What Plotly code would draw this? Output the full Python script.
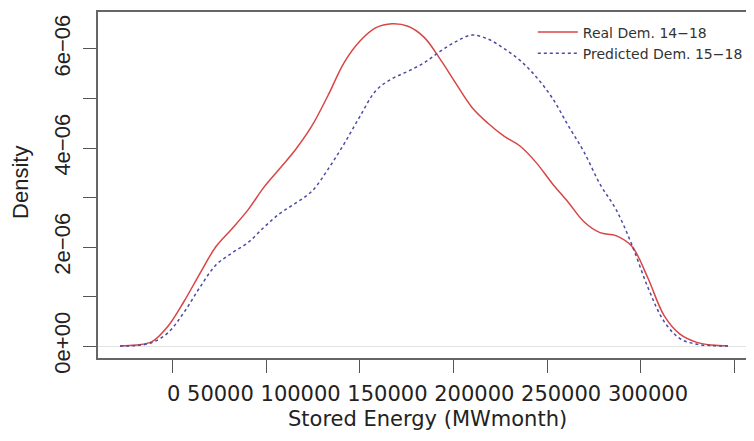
import plotly.graph_objects as go

energy = [-28340, -19790, -11230, -2670, 5880, 14440, 23000, 31550, 40110, 48660,
          57220, 65780, 74330, 82890, 91440, 100000, 108550, 117110, 125670, 134220,
          142780, 151340, 159890, 168450, 177000, 185560, 194120, 202670, 211230, 219780,
          228340, 236900, 245450, 254010, 262560, 271120, 279670, 288230, 296790]

# Real demand 14-18 (density, units of 1e-6)
real_density = [0.0, 0.02, 0.09, 0.40, 0.90, 1.47, 2.01, 2.37, 2.75, 3.21,
                3.59, 3.98, 4.45, 5.06, 5.72, 6.16, 6.43, 6.51, 6.46, 6.24,
                5.80, 5.30, 4.82, 4.50, 4.24, 4.04, 3.71, 3.29, 2.91, 2.51,
                2.29, 2.23, 2.01, 1.37, 0.62, 0.24, 0.08, 0.02, 0.0]

# Predicted demand 15-18 (density, units of 1e-6)
pred_density = [0.0, 0.01, 0.07, 0.27, 0.68, 1.19, 1.64, 1.88, 2.09, 2.40,
                2.68, 2.89, 3.13, 3.57, 4.08, 4.64, 5.16, 5.40, 5.55, 5.72,
                5.95, 6.15, 6.28, 6.20, 6.01, 5.77, 5.44, 5.02, 4.46, 3.92,
                3.27, 2.76, 2.04, 1.18, 0.50, 0.15, 0.04, 0.01, 0.0]

x_ticks = [0, 50000, 100000, 150000, 200000, 250000, 300000]
x_tick_labels = ["0", "50000", "100000", "150000", "200000", "250000", "300000"]
y_ticks = [0, 1e-6, 2e-6, 3e-6, 4e-6, 5e-6, 6e-6]
y_tick_labels = ["0e+00", "", "2e\u221206", "", "4e\u221206", "", "6e\u221206"]

fig = go.Figure()

fig.add_trace(go.Scatter(x=energy, y=[v * 1e-6 for v in real_density],
                         mode="lines", name="Real Dem. 14\u221218",
                         line=dict(color="#d94545", width=1.5, shape="spline", smoothing=1.0)))
fig.add_trace(go.Scatter(x=energy, y=[v * 1e-6 for v in pred_density],
                         mode="lines", name="Predicted Dem. 15\u221218",
                         line=dict(color="#4b4ba6", width=1.5, dash="dot", shape="spline", smoothing=1.0)))

# x tick labels are packed together in the original, so they sit in one line of text
fig.add_annotation(text=" ".join(x_tick_labels), xref="paper", yref="paper",
                   x=0.5077, y=-0.104, xanchor="center", yanchor="middle", showarrow=False,
                   font=dict(family="DejaVu Sans", size=21, color="#222222"))
fig.add_annotation(text="Stored Energy (MWmonth)", xref="paper", yref="paper",
                   x=0.5077, y=-0.175, xanchor="center", yanchor="middle", showarrow=False,
                   font=dict(family="DejaVu Sans", size=21, color="#222222"))
fig.add_annotation(text="Density", xref="paper", yref="paper", textangle=-90,
                   x=-0.1186, y=0.506, xanchor="center", yanchor="middle", showarrow=False,
                   borderpad=0,
                   font=dict(family="Liberation Sans", size=22, color="#222222"))

# page body has an 8px margin, so the figure is 8px smaller and left/top margins are trimmed
fig.update_layout(width=746, height=433,
                  margin=dict(l=90, r=7, t=2, b=83),
                  paper_bgcolor="white", plot_bgcolor="white",
                  showlegend=True,
                  legend=dict(x=0.67, y=0.987, xanchor="left", yanchor="top",
                              itemwidth=40,
                              bgcolor="rgba(0,0,0,0)", borderwidth=0,
                              font=dict(family="DejaVu Sans", size=14, color="#333333")))

fig.update_xaxes(range=[-40100, 306950], tickvals=x_ticks, ticktext=[""] * len(x_ticks),
                 ticks="outside", ticklen=13, tickwidth=1.2, tickcolor="#555555",
                 showgrid=False, zeroline=False,
                 showline=True, mirror=True, linecolor="#666666", linewidth=1.5)
fig.update_yaxes(range=[-0.241e-6, 6.747e-6], tickvals=y_ticks, ticktext=y_tick_labels,
                 tickangle=-90, ticks="outside", ticklen=13, tickwidth=1.2, tickcolor="#555555",
                 ticklabelstandoff=4,
                 tickfont=dict(family="Liberation Sans", size=22, color="#222222"),
                 showgrid=False, zeroline=True, zerolinecolor="#e2e2e2", zerolinewidth=1,
                 showline=True, mirror=True, linecolor="#666666", linewidth=1.5)

fig.write_html("out.html")
